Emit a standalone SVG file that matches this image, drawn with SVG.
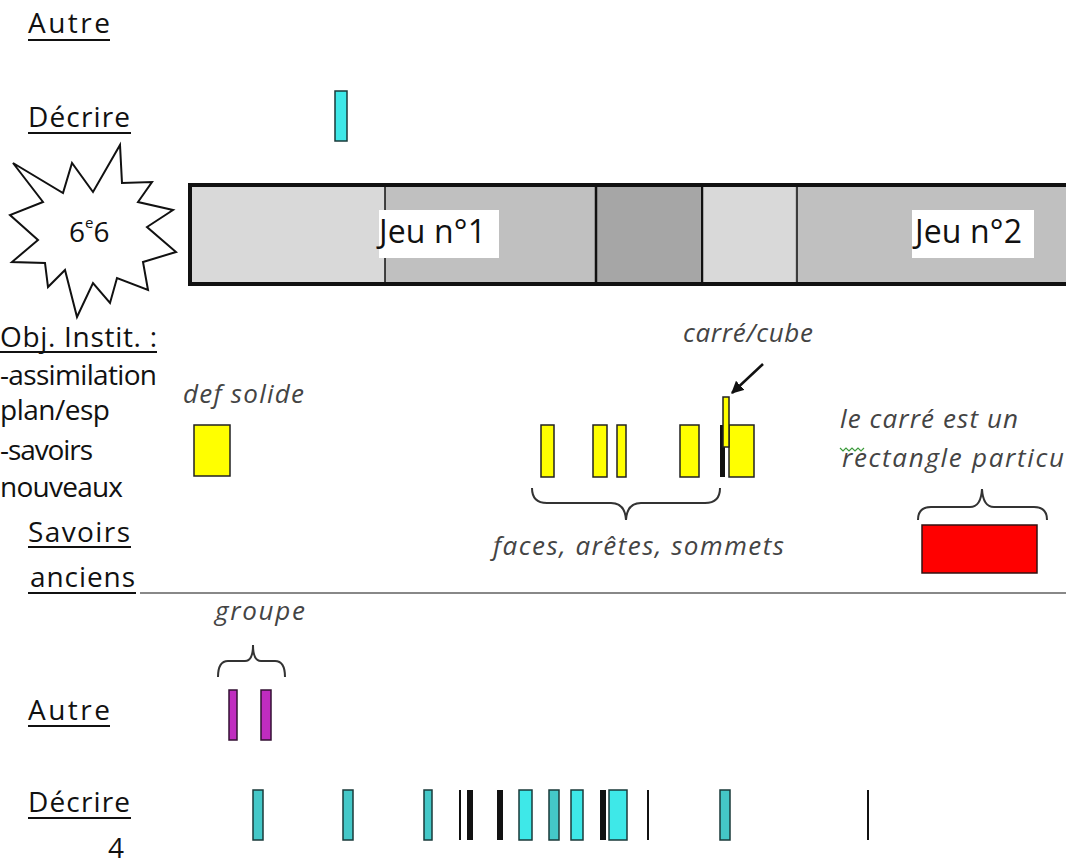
<svg xmlns="http://www.w3.org/2000/svg" width="1066" height="865" viewBox="0 0 1066 865">
<defs>
<style>
.lbl{font-family:"Open Sans","Noto Sans",sans-serif;font-size:28px;fill:#111}
.it{font-family:"Open Sans","Noto Sans",sans-serif;font-style:italic;font-size:26px;fill:#444}
.jeu{font-family:"Open Sans","Noto Sans",sans-serif;font-size:32px;fill:#111}
.ul{stroke:#111;stroke-width:2}
.cy{fill:#3ee8e8;stroke:#1a3a3a;stroke-width:1.5}
.cym{fill:#44c8c8;stroke:#1a3a3a;stroke-width:1.5}
.ye{fill:#ffff00;stroke:#222;stroke-width:1.5}
.pu{fill:#c02cc0;stroke:#331133;stroke-width:1.5}
.bl{fill:#111}
.brace{fill:none;stroke:#333;stroke-width:2}
</style>
<marker id="ah" viewBox="0 0 10 10" refX="9" refY="5" markerWidth="5" markerHeight="5" orient="auto">
<path d="M0,0 L10,5 L0,10 z" fill="#111"/>
</marker>
</defs>
<rect width="1066" height="865" fill="#ffffff"/>

<g id="labels-left">
<text class="lbl" x="28" y="33" textLength="82">Autre</text>
<line class="ul" x1="28" y1="40" x2="110" y2="40"/>
<text class="lbl" x="28" y="127" textLength="102">Décrire</text>
<line class="ul" x1="28" y1="133" x2="131" y2="133"/>
<text class="lbl" x="0" y="347" textLength="157">Obj. Instit. :</text>
<line class="ul" x1="0" y1="352" x2="157" y2="352"/>
<text class="lbl" x="0" y="385" textLength="157">-assimilation</text>
<text class="lbl" x="0" y="420" textLength="110">plan/esp</text>
<text class="lbl" x="0" y="460" textLength="93">-savoirs</text>
<text class="lbl" x="0" y="497" textLength="123">nouveaux</text>
<text class="lbl" x="28" y="542" textLength="102">Savoirs</text>
<line class="ul" x1="28" y1="547" x2="131" y2="547"/>
<text class="lbl" x="30" y="587" textLength="105">anciens</text>
<line class="ul" x1="28" y1="593" x2="136" y2="593"/>
<text class="lbl" x="28" y="720" textLength="82">Autre</text>
<line class="ul" x1="28" y1="726" x2="110" y2="726"/>
<text class="lbl" x="28" y="812" textLength="102">Décrire</text>
<line class="ul" x1="28" y1="818" x2="131" y2="818"/>
<text class="lbl" x="108" y="858" font-size="15">4</text>
</g>

<line x1="140" y1="593" x2="1066" y2="593" stroke="#888" stroke-width="2"/>

<g id="starburst">
<polygon points="13,163 63,193 72,163 93,192 120,145 122,183 152,182 138,202 173,210 147,227 176,252 143,262 148,290 117,278 110,303 93,283 77,317 65,270 48,287 45,263 12,262 38,240 10,215 43,202" fill="#fff" stroke="#111" stroke-width="2" stroke-linejoin="miter"/>
<text class="lbl" x="69" y="242" font-size="32">6<tspan font-size="15" dy="-14">e</tspan><tspan dy="14">6</tspan></text>
</g>

<g id="timeline-bar">
<rect x="190" y="185" width="195" height="99" fill="#d9d9d9"/>
<rect x="385" y="185" width="210" height="99" fill="#c0c0c0"/>
<rect x="595" y="185" width="105" height="99" fill="#a6a6a6"/>
<rect x="700" y="185" width="95" height="99" fill="#d9d9d9"/>
<rect x="795" y="185" width="271" height="99" fill="#c0c0c0"/>
<line x1="385" y1="185" x2="385" y2="284" stroke="#111" stroke-width="1.5"/>
<line x1="596" y1="185" x2="596" y2="284" stroke="#111" stroke-width="2.5"/>
<line x1="702" y1="185" x2="702" y2="284" stroke="#111" stroke-width="2.5"/>
<line x1="797" y1="185" x2="797" y2="284" stroke="#111" stroke-width="1.5"/>
<path d="M1070,185 L190,185 L190,284 L1070,284" fill="none" stroke="#111" stroke-width="4"/>
</g>

<g id="jeu1">
<rect x="379" y="210" width="120" height="48" fill="#fff"/>
<text class="jeu" x="379" y="243" textLength="107">Jeu n°1</text>
</g>
<g id="jeu2">
<rect x="912" y="210" width="122" height="48" fill="#fff"/>
<text class="jeu" x="915" y="243" textLength="107">Jeu n°2</text>
</g>

<g id="decrire-top">
<rect class="cy" x="335" y="91" width="12" height="50"/>
</g>

<g id="def-solide">
<text class="it" x="183" y="403" textLength="121">def solide</text>
<rect class="ye" x="194" y="425" width="36" height="51"/>
</g>

<g id="faces">
<rect class="ye" x="541" y="425" width="13" height="52"/>
<rect class="ye" x="593" y="425" width="14" height="52"/>
<rect class="ye" x="617" y="425" width="9" height="52"/>
<rect class="ye" x="680" y="425" width="19" height="52"/>
<rect class="bl" x="720" y="425" width="5" height="52"/>
<rect class="ye" x="729" y="425" width="25" height="52"/>
<rect class="ye" x="723" y="397" width="6" height="50"/>
<text class="it" x="493" y="555" textLength="291">faces, arêtes, sommets</text>
</g>

<g id="carre-cube">
<text class="it" x="683" y="342" textLength="130">carré/cube</text>
</g>

<g id="carre-rectangle">
<text class="it" x="840" y="428" textLength="178">le carré est un</text>
<path d="M840,448 l3,3 l3,-3 l3,3 l3,-3 l3,3 l3,-3 l3,3 l3,-3" fill="none" stroke="#3a9a3a" stroke-width="1.2"/>
<text class="it" x="842" y="467" textLength="222">rectangle particu</text>
<rect x="922" y="525" width="115" height="48" fill="#ff0000" stroke="#331111" stroke-width="1.5"/>
</g>

<g id="groupe">
<text class="it" x="215" y="620" textLength="90">groupe</text>
<rect class="pu" x="229" y="690" width="8" height="50"/>
<rect class="pu" x="261" y="690" width="10" height="50"/>
</g>

<g id="decrire-bottom">
<rect class="cym" x="253" y="790" width="10" height="50"/>
<rect class="cym" x="343" y="790" width="10" height="50"/>
<rect class="cym" x="424" y="790" width="8" height="50"/>
<rect class="bl" x="459" y="790" width="2" height="50"/>
<rect class="bl" x="467" y="790" width="6" height="50"/>
<rect class="bl" x="497" y="790" width="6" height="50"/>
<rect class="cy" x="519" y="790" width="13" height="50"/>
<rect class="cym" x="549" y="790" width="10" height="50"/>
<rect class="cy" x="571" y="790" width="12" height="50"/>
<rect class="bl" x="600" y="790" width="6" height="50"/>
<rect class="cy" x="609" y="790" width="18" height="50"/>
<rect class="bl" x="647" y="790" width="2" height="50"/>
<rect class="cym" x="720" y="790" width="10" height="50"/>
<rect class="bl" x="867" y="790" width="2" height="50"/>
</g>

<g id="connectors">
<line x1="763" y1="364" x2="732" y2="393" stroke="#111" stroke-width="2.5" marker-end="url(#ah)"/>
<path class="brace" d="M532,488 Q532,503 547,503 L611,503 Q625,503 626,520 Q627,503 641,503 L705,503 Q720,503 720,488"/>
<path class="brace" d="M918,520 Q918,507 931,507 L970,507 Q981,507 982,489 Q983,507 994,507 L1034,507 Q1047,507 1047,520"/>
<path class="brace" d="M218,677 Q218,661 228,661 L245,661 Q253,661 253,645 Q253,661 261,661 L275,661 Q285,661 285,677"/>
</g>
</svg>
